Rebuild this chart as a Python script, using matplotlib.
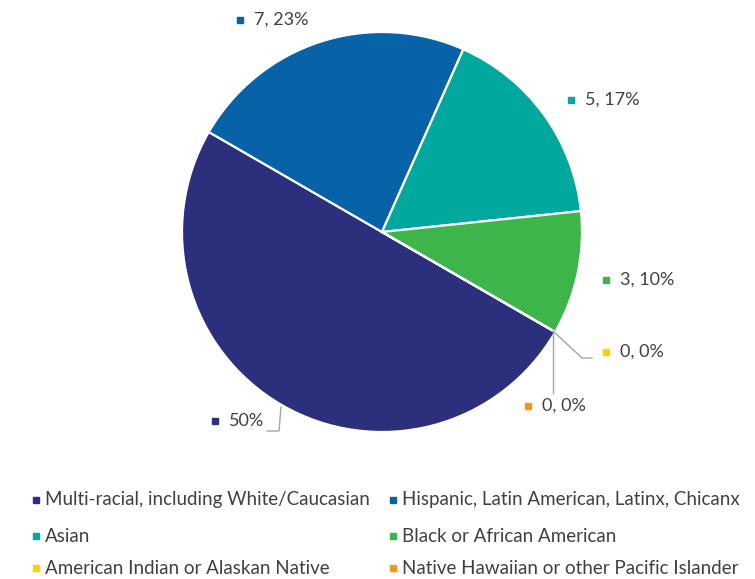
"""Pie chart of respondents by race / ethnicity, recreated with matplotlib."""
import matplotlib
matplotlib.use("Agg")
import matplotlib.pyplot as plt

plt.rcParams["font.family"] = ["Lato", "DejaVu Sans"]

W, H = 755, 579

categories = [
    "Multi-racial, including White/Caucasian",
    "Hispanic, Latin American, Latinx, Chicanx",
    "Asian",
    "Black or African American",
    "American Indian or Alaskan Native",
    "Native Hawaiian or other Pacific Islander",
]
counts = [15, 7, 5, 3, 0, 0]
labels = ["50%", "7, 23%", "5, 17%", "3, 10%", "0, 0%", "0, 0%"]
colors = ["#2B2F7C", "#0862A8", "#00A89D", "#3DB54A", "#FFD200", "#F7941D"]

# label anchor (marker position) in pixel coords, y down
label_pos = [(215, 421), (240, 20), (571, 100), (606, 280), (606, 352), (528, 406)]
leaders = {
    0: [(281, 407), (279, 431), (267, 431)],
    4: [(553, 331), (582, 358), (592, 358)],
    5: [(553, 331), (553, 393)],
}


def py(y):
    return H - y


fig = plt.figure(figsize=(W / 100, H / 100), dpi=100)
ax = fig.add_axes([0, 0, 1, 1])

ax.pie(counts, colors=colors, startangle=-30, counterclock=False,
       center=(382, py(232)), radius=200,
       wedgeprops=dict(edgecolor="white", linewidth=1.6))
ax.set_xlim(0, W)
ax.set_ylim(0, H)
ax.set_aspect("equal")
ax.axis("off")

for i, pts in leaders.items():
    ax.plot([p[0] for p in pts], [py(p[1]) for p in pts], color="#A6A6A6", lw=1.0)

for lab, col, (x, y) in zip(labels, colors, label_pos):
    ax.plot(x, py(y), marker="s", ms=5, color=col, ls="none")
    ax.text(x + 14, py(y), lab, fontsize=13, color="#404040", va="center", ha="left")

# legend, two columns
leg_x = [36, 393]
leg_y = [500, 536, 568]
for i, (cat, col) in enumerate(zip(categories, colors)):
    x = leg_x[i % 2]
    y = leg_y[i // 2]
    ax.plot(x, py(y), marker="s", ms=5, color=col, ls="none")
    ax.text(x + 9, py(y), cat, fontsize=13.5, color="#404040", va="center", ha="left")

fig.savefig("out.png", dpi=100)
